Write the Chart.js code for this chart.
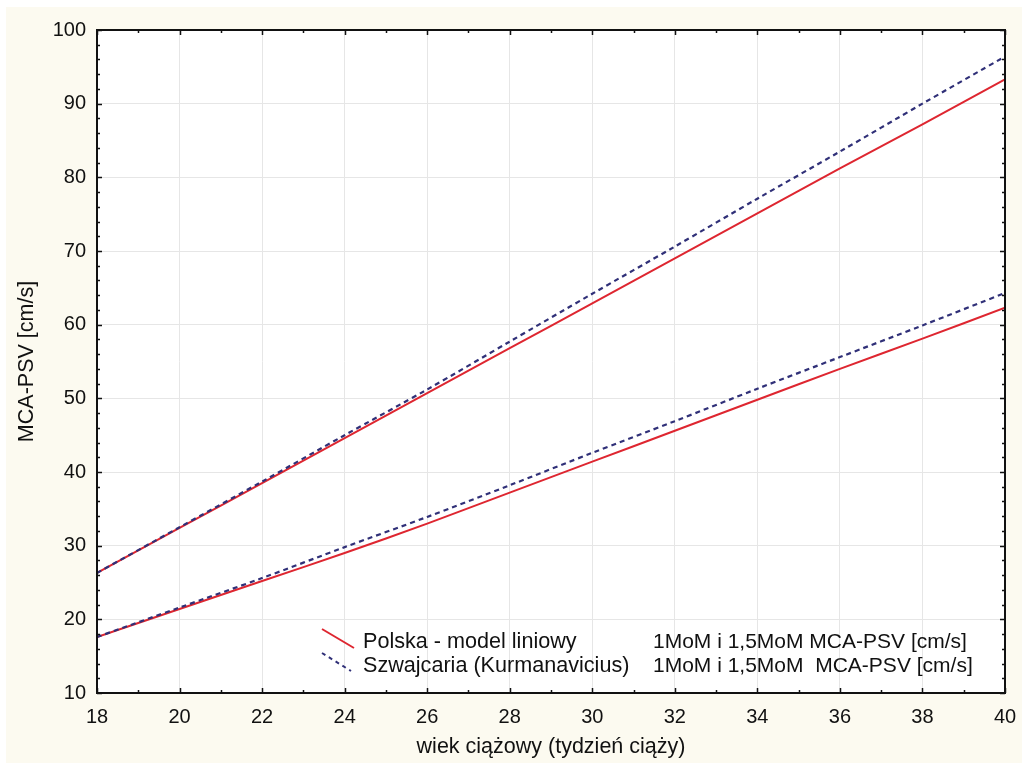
<!DOCTYPE html>
<html>
<head>
<meta charset="utf-8">
<title>MCA-PSV</title>
<script src="https://cdn.jsdelivr.net/npm/chart.js@4.4.1/dist/chart.umd.min.js"></script>
<style>
  html, body { margin: 0; padding: 0; background: #fff; }
  #chart { display: block; }
</style>
</head>
<body>
<canvas id="chart" width="1022" height="764"></canvas>
<script>
// gestational week (x) and MCA-PSV readings [cm/s]
const weeks = [18, 20, 22, 24, 26, 28, 30, 32, 34, 36, 38, 40];
const polska15MoM = [26.3, 32.4, 38.5, 44.6, 50.7, 56.8, 62.9, 69.0, 75.1, 81.2, 87.2, 93.3];
const polska1MoM = [17.6, 21.4, 25.2, 29.0, 33.0, 37.2, 41.4, 45.6, 49.8, 54.0, 58.1, 62.3];
const szwajcaria15MoM = [26.3, 32.5, 38.7, 45.0, 51.2, 57.7, 64.2, 70.6, 77.1, 83.5, 90.0, 96.4];
const szwajcaria1MoM = [17.6, 21.6, 25.6, 29.8, 33.9, 38.2, 42.6, 46.9, 51.3, 55.6, 59.9, 64.3];

const legendNames = ["Polska - model liniowy", "Szwajcaria (Kurmanavicius)"];
const legendUnits = ["1MoM i 1,5MoM MCA-PSV [cm/s]", "1MoM i 1,5MoM  MCA-PSV [cm/s]"];

const RED = "rgb(222, 38, 48)";
const BLUE = "rgb(48, 48, 120)";
const FONT = '"Liberation Sans", Arial, sans-serif';

Chart.defaults.font.family = FONT;
Chart.defaults.color = "#111";

function pts(ys) {
  return weeks.map((w, i) => ({ x: w, y: ys[i] }));
}

// cream page + white plot area
const backgroundPlugin = {
  id: "background",
  beforeDraw(chart) {
    const ctx = chart.ctx;
    const a = chart.chartArea;
    ctx.save();
    ctx.fillStyle = "#fcfaf0";
    ctx.fillRect(6, 7, chart.width - 6, chart.height - 8);
    ctx.fillStyle = "#fff";
    ctx.fillRect(a.left, a.top, a.right - a.left, a.bottom - a.top);
    ctx.restore();
  },
};

// frame + inward tick marks on all four sides
const frameTicksPlugin = {
  id: "frameTicks",
  afterDatasetsDraw(chart) {
    const ctx = chart.ctx;
    const a = chart.chartArea;
    const xs = chart.scales.x;
    const ys = chart.scales.y;
    ctx.save();
    ctx.strokeStyle = "#111";
    ctx.lineWidth = 1.5;
    for (let w = 18; w <= 40; w++) {
      const px = Math.round(xs.getPixelForValue(w)) + 0.5;
      const len = w % 2 === 0 ? 5 : 3;
      ctx.beginPath();
      ctx.moveTo(px, a.bottom); ctx.lineTo(px, a.bottom - len);
      ctx.moveTo(px, a.top); ctx.lineTo(px, a.top + len);
      ctx.stroke();
    }
    for (let v = 10; v <= 100; v += 2) {
      const py = Math.round(ys.getPixelForValue(v)) + 0.5;
      const len = v % 10 === 0 ? 5 : 3;
      ctx.beginPath();
      ctx.moveTo(a.left, py); ctx.lineTo(a.left + len, py);
      ctx.moveTo(a.right, py); ctx.lineTo(a.right - len, py);
      ctx.stroke();
    }
    ctx.lineWidth = 2;
    ctx.strokeRect(a.left, a.top, a.right - a.left, a.bottom - a.top);
    ctx.restore();
  },
};

// legend inside the plot with slanted line samples
const legendPlugin = {
  id: "mocLegend",
  afterDraw(chart) {
    const ctx = chart.ctx;
    ctx.save();
    ctx.lineWidth = 2;
    ctx.strokeStyle = RED;
    ctx.beginPath();
    ctx.moveTo(322, 629); ctx.lineTo(354, 648);
    ctx.stroke();
    ctx.strokeStyle = BLUE;
    ctx.setLineDash([4, 4]);
    ctx.beginPath();
    ctx.moveTo(322, 653); ctx.lineTo(351, 671);
    ctx.stroke();
    ctx.setLineDash([]);
    ctx.fillStyle = "#111";
    ctx.textBaseline = "alphabetic";
    ctx.font = "21.6px " + FONT;
    ctx.fillText(legendNames[0], 363, 648);
    ctx.fillText(legendNames[1], 363, 672);
    ctx.font = "21px " + FONT;
    ctx.fillText(legendUnits[0], 653, 648);
    ctx.fillText(legendUnits[1], 653, 672);
    ctx.restore();
  },
};

const lineStyle = (color, dashed) => ({
  borderColor: color,
  borderWidth: dashed ? 2.2 : 2,
  borderDash: dashed ? [5, 4] : [],
  pointRadius: 0,
  fill: false,
  tension: 0.3,
});

const ctx = document.getElementById("chart").getContext("2d");
const chart = new Chart(ctx, {
  type: "line",
  data: {
    datasets: [
      { label: legendNames[1], data: pts(szwajcaria15MoM), ...lineStyle(BLUE, true) },
      { label: legendNames[1], data: pts(szwajcaria1MoM), ...lineStyle(BLUE, true) },
      { label: legendNames[0], data: pts(polska15MoM), ...lineStyle(RED, false) },
      { label: legendNames[0], data: pts(polska1MoM), ...lineStyle(RED, false) },
    ],
  },
  options: {
    responsive: false,
    animation: false,
    devicePixelRatio: 1,
    layout: { padding: { top: 30, right: 17, left: 0, bottom: 0 } },
    plugins: {
      legend: { display: false },
      tooltip: { enabled: false },
    },
    scales: {
      x: {
        type: "linear",
        min: 18,
        max: 40,
        ticks: { stepSize: 2, padding: 12, font: { size: 20 }, color: "#111" },
        grid: { color: "#e6e6e6", lineWidth: 1, drawTicks: false },
        border: { display: false },
        title: {
          display: true,
          text: "wiek ciążowy (tydzień ciąży)",
          font: { size: 21.5 },
          color: "#111",
          padding: { top: 0, bottom: 4 },
        },
        afterFit(scale) {
          scale.height = 71;
          scale.paddingLeft = 0;
          scale.paddingRight = 0;
        },
      },
      y: {
        min: 10,
        max: 100,
        ticks: { stepSize: 10, padding: 11, font: { size: 20 }, color: "#111" },
        grid: { color: "#e6e6e6", lineWidth: 1, drawTicks: false },
        border: { display: false },
        title: {
          display: true,
          text: "MCA-PSV [cm/s]",
          font: { size: 21.5 },
          color: "#111",
          padding: { top: 14, bottom: 0 },
        },
        afterFit(scale) {
          scale.width = 97;
          scale.paddingTop = 0;
          scale.paddingBottom = 0;
        },
      },
    },
  },
  plugins: [backgroundPlugin, frameTicksPlugin, legendPlugin],
});
</script>
</body>
</html>
